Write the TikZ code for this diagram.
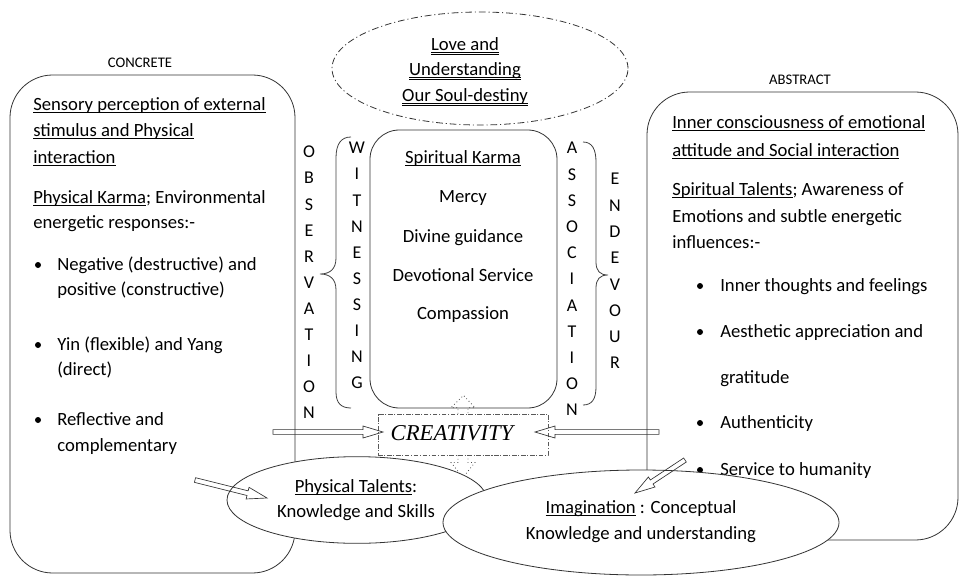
\documentclass[tikz,border=0pt]{standalone}
\usepackage{fontspec}
\setmainfont{Carlito}
\newfontfamily\creatfont{Liberation Serif}
\usetikzlibrary{calc,shapes.geometric}
\newcommand\myul[1]{\setbox0=\hbox{#1}\rlap{\rule[-2pt]{\wd0}{0.55pt}}\box0\relax}
\newcommand\mydul[1]{\setbox0=\hbox{#1}\rlap{\rule[-2pt]{\wd0}{0.5pt}}\rlap{\rule[-3.7pt]{\wd0}{0.5pt}}\box0\relax}
\newcommand\fsbody{\fontsize{14}{17}\selectfont}
\newcommand\blockarr[2]{%
  \coordinate (ba-h) at ($(#2)!15pt!(#1)$);
  \draw[hollowarrow]
    ($(#1)!1.8pt!90:(#2)$) -- ($(ba-h)!1.8pt!-90:(#1)$) -- ($(ba-h)!4.5pt!-90:(#1)$) -- (#2)
    -- ($(ba-h)!4.5pt!90:(#1)$) -- ($(ba-h)!1.8pt!90:(#1)$) -- ($(#1)!1.8pt!-90:(#2)$) -- cycle;}
\begin{document}
\begin{tikzpicture}[x=0.75pt,y=-0.75pt,
  panel/.style={draw=black!80, line width=0.6pt, inner sep=0pt},
  txt/.style={anchor=base west, inner sep=0pt, font=\fsbody},
  ctxt/.style={anchor=base, inner sep=0pt, font=\fsbody},
  small/.style={anchor=base, inner sep=0pt, font=\fontsize{11}{13}\selectfont},
  letter/.style={anchor=base, inner sep=0pt, font=\fontsize{13.5}{15}\selectfont},
  bul/.style={circle, fill=black, inner sep=0pt, minimum size=4.5pt},
  hollowarrow/.style={draw=black!80, line width=0.5pt, line join=miter},
  dotarrow/.style={draw=black!70, dotted, line width=0.6pt},
  bracepath/.style={draw=black!75, line width=0.6pt}
]
\useasboundingbox (0,0) rectangle (968,582);

% main panels
\node[panel, rounded corners=32pt, minimum width=213.75pt, minimum height=373.5pt] (lbox) at (152.5,324) {};
\node[panel, rounded corners=32pt, minimum width=233.25pt, minimum height=336pt] (rbox) at (802.5,316) {};
\node[panel, rounded corners=22pt, minimum width=140.25pt, minimum height=208.5pt] (cbox) at (463.5,269) {};
\node[ellipse, draw=black!80, line width=0.6pt, dash pattern=on 5pt off 2.2pt on 0.8pt off 2.2pt,
      minimum width=222pt, minimum height=84.75pt, inner sep=0pt] (love) at (480,68.5) {};

% titles
\node[small] (concrete) at (140,67) {CONCRETE};
\node[small] (abstract) at (800,84) {ABSTRACT};

% left panel text
\node[txt] (l1) at (33,110) {\myul{Sensory perception of external}};
\node[txt] (l2) at (33,136) {\myul{stimulus and Physical}};
\node[txt] (l3) at (33,163) {\myul{interaction}};
\node[txt] (l4) at (33,203) {\myul{Physical Karma}; Environmental};
\node[txt] (l5) at (33,228) {energetic responses:-};
\node[bul] (lb1) at (38,265) {};
\node[txt] (l6) at (57,270) {Negative (destructive) and};
\node[txt] (l7) at (57,295) {positive (constructive)};
\node[bul] (lb2) at (38,345) {};
\node[txt] (l8) at (57,350) {Yin (flexible) and Yang};
\node[txt] (l9) at (57,375) {(direct)};
\node[bul] (lb3) at (38,420) {};
\node[txt] (l10) at (57,425) {Reflective and};
\node[txt] (l11) at (57,451) {complementary};

% right panel text
\node[txt] (r1) at (672,128) {\myul{Inner consciousness of emotional}};
\node[txt] (r2) at (672,156) {\myul{attitude and Social interaction}};
\node[txt] (r3) at (672,195) {\myul{Spiritual Talents}; Awareness of};
\node[txt] (r4) at (672,222) {Emotions and subtle energetic};
\node[txt] (r5) at (672,248) {influences:-};
\node[bul] (rb1) at (700,286) {};
\node[txt] (r6) at (720,291) {Inner thoughts and feelings};
\node[bul] (rb2) at (700,332) {};
\node[txt] (r7) at (720,337) {Aesthetic appreciation and};
\node[txt] (r8) at (720,383) {gratitude};
\node[bul] (rb3) at (700,423) {};
\node[txt] (r9) at (720,428) {Authenticity};
\node[bul] (rb4) at (700,470) {};
\node[txt] (r10) at (720,475) {Service to humanity};

% centre text
\node[ctxt] (c1) at (463,163) {\myul{Spiritual Karma}};
\node[ctxt] (c2) at (463,202) {Mercy};
\node[ctxt] (c3) at (463,242) {Divine guidance};
\node[ctxt] (c4) at (463,281) {Devotional Service};
\node[ctxt] (c5) at (463,319) {Compassion};

% top ellipse text
\node[ctxt] (t1) at (465,50) {\mydul{Love and}};
\node[ctxt] (t2) at (465,75) {\mydul{Understanding}};
\node[ctxt] (t3) at (465,101) {\mydul{Our Soul-destiny}};

% vertical words
\foreach \c [count=\i from 0] in {O,B,S,E,R,V,A,T,I,O,N}
  \node[letter] (obs\i) at (309,{157.8+26.1*\i}) {\c};
\foreach \c [count=\i from 0] in {W,I,T,N,E,S,S,I,N,G}
  \node[letter] (wit\i) at (357,{153.8+26.1*\i}) {\c};
\foreach \c [count=\i from 0] in {A,S,S,O,C,I,A,T,I,O,N}
  \node[letter] (ass\i) at (572,{153.8+26.2*\i}) {\c};
\foreach \c [count=\i from 0] in {E,N,D,E,V,O,U,R}
  \node[letter] (end\i) at (615,{184.8+26.3*\i}) {\c};

% braces
\draw[bracepath] (351,137) .. controls (341,137) and (336,144) .. (336,158) -- (336,258)
  .. controls (336,269) and (330,274) .. (320,274) .. controls (330,274) and (336,279) .. (336,290)
  -- (336,392) .. controls (336,403) and (341,408) .. (351,408);
\draw[bracepath] (583,142) .. controls (592,142) and (596,149) .. (596,162) -- (596,262)
  .. controls (596,271) and (600,275) .. (608,275) .. controls (600,275) and (596,279) .. (596,288)
  -- (596,387) .. controls (596,399) and (592,405) .. (583,405);

% creativity box
\node[draw=black!65, line width=0.6pt, dash pattern=on 3.5pt off 1.2pt on 0.8pt off 1.2pt,
      minimum width=127.5pt, minimum height=30.75pt, inner sep=0pt] (creat) at (463,434.5) {};
\node[anchor=base, inner sep=0pt, font=\creatfont\itshape\fontsize{17}{19}\selectfont] (creattxt) at (452,440) {CREATIVITY};

% dotted block arrows between centre box and creativity box
\draw[dotarrow] ($(creat.north)+(-5,0)$) -- ++(0,-6) -- ++(-7,0) -- ($(cbox.south)+(0,-13)$)
  -- ($(creat.north)+(12,-6)$) -- ++(-7,0) -- ++(0,6);
\coordinate (dn) at ($(creat.south)+(0,22)$);
\draw[dotarrow] ($(creat.south)+(-5,0)$) -- ++(0,7) -- ++(-7,0) -- (dn)
  -- ($(creat.south)+(12,7)$) -- ++(-7,0) -- ++(0,-7);

% ellipses at bottom
\node[ellipse, draw=black!80, fill=white, line width=0.6pt, minimum width=195pt, minimum height=65pt, inner sep=0pt] (ptal) at (357,500) {};
\node[ellipse, draw=black!80, fill=white, line width=0.6pt, minimum width=297pt, minimum height=78.75pt, inner sep=0pt] (imag) at (641,522.5) {};

\node[ctxt] (p1) at (356,492) {\myul{Physical Talents}:};
\node[ctxt] (p2) at (356,517) {Knowledge and Skills};
\node[ctxt] (i1) at (641,513) {\myul{Imagination} : Conceptual};
\node[ctxt] (i2) at (641,539) {Knowledge and understanding};

% hollow arrows
\coordinate (la0) at (273,432);
\coordinate (la1) at (383,432);
\coordinate (ra0) at (659,432);
\coordinate (ra1) at (535,432);
\coordinate (pa0) at (195,480);
\coordinate (pa1) at (267,498);
\coordinate (ia0) at (685,460);
\coordinate (ia1) at (635,493);
\blockarr{la0}{la1}
\blockarr{ra0}{ra1}
\blockarr{pa0}{pa1}
\blockarr{ia0}{ia1}
\end{tikzpicture}
\end{document}
